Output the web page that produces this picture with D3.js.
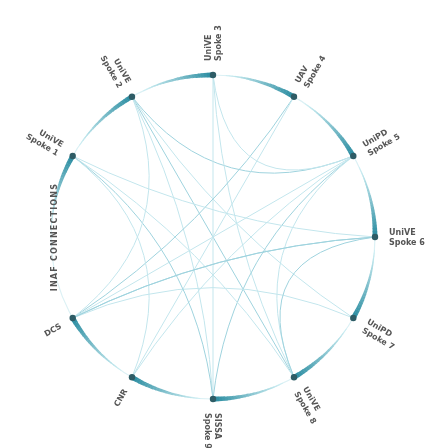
<!DOCTYPE html>
<html>
<head>
<meta charset="utf-8">
<script src="https://cdn.jsdelivr.net/npm/d3@7"></script>
<style>
  body { margin: 0; background: #fff; }
  text { font-family: "DejaVu Sans", sans-serif; }
</style>
</head>
<body>
<div id="chart"></div>
<script>
// node labels, going clockwise from the top
var line1 = ["UniVE", "UAV", "UniPD", "UniVE", "UniPD", "UniVE", "SISSA", "CNR", "DCS", "INAF CONNECTIONS", "UniVE", "UniVE"];
var line2 = ["Spoke 3", "Spoke 4", "Spoke 5", "Spoke 6", "Spoke 7", "Spoke 8", "Spoke 9", "", "", "", "Spoke 1", "Spoke 2"];
var hasNode = [1, 1, 1, 1, 1, 1, 1, 1, 1, 0, 1, 1];

// connections between nodes (index pairs)
var linkFrom = [11, 11, 11, 11, 0, 0, 1, 1, 2, 2, 2, 3, 3, 4, 5, 6, 0, 2, 3, 10, 11, 8];
var linkTo   = [ 5,  6,  4,  2, 6, 5, 8, 7, 8, 6, 7, 10, 8, 8, 10, 10, 2, 5, 5, 7, 8, 3];

var width = 431, height = 448;
var cx = 213, cy = 237, R = 162;

var svg = d3.select("#chart").append("svg").attr("width", width).attr("height", height);

var defs = svg.append("defs");
defs.append("filter").attr("id", "soft")
  .append("feGaussianBlur").attr("stdDeviation", 0.75);

var g = svg.append("g").attr("transform", "translate(" + cx + "," + cy + ")")
  .attr("filter", "url(#soft)");

var angle = d3.scaleLinear().domain([0, line1.length]).range([0, 2 * Math.PI]);
var deg = function(i) { return angle(i) * 180 / Math.PI; };
var px = function(a, r) { return r * Math.sin(a); };
var py = function(a, r) { return -r * Math.cos(a); };

// faint ring
g.append("circle").attr("r", R).attr("fill", "none")
  .attr("stroke", "#dcf1f5").attr("stroke-width", 1.2);

// chords
var links = linkFrom.map(function(s, k) { return [s, linkTo[k]]; });
g.selectAll(".chord").data(links).enter().append("path")
  .attr("class", "chord")
  .attr("fill", "none")
  .attr("stroke", function(d, k) { return k % 3 == 0 ? "#9fd3de" : "#c3e6ed"; })
  .attr("stroke-width", 1)
  .attr("d", function(d) {
    var a1 = angle(d[0]), a2 = angle(d[1]);
    var x1 = px(a1, R), y1 = py(a1, R), x2 = px(a2, R), y2 = py(a2, R);
    var qx = (x1 + x2) / 2 * 0.25, qy = (y1 + y2) / 2 * 0.25;
    return "M" + x1 + "," + y1 + "Q" + qx + "," + qy + " " + x2 + "," + y2;
  });

// tapered arcs ending at each node
var span = angle(0.85), steps = 24;
var col = d3.interpolateRgb("#cdeef3", "#23889d");
var nodes = d3.range(line1.length).filter(function(i) { return hasNode[i]; });
nodes.forEach(function(i) {
  var end = angle(i), start = end - span;
  var segs = d3.range(steps).map(function(s) { return s / steps; });
  g.selectAll(".seg" + i).data(segs).enter().append("path")
    .attr("fill", function(t) { return col(Math.pow(t, 1.1)); })
    .attr("d", function(t) {
      var w = 0.8 + 4.4 * Math.pow(t, 1.1);
      return d3.arc()({
        innerRadius: R - w / 2, outerRadius: R + w / 2,
        startAngle: start + t * span, endAngle: start + (t + 1 / steps) * span + 0.002
      });
    });
});

// node dots
g.selectAll(".dot").data(nodes).enter().append("circle")
  .attr("cx", function(i) { return px(angle(i), R); })
  .attr("cy", function(i) { return py(angle(i), R); })
  .attr("r", 3.2).attr("fill", "#2d5c66");

// labels
line1.forEach(function(t, i) {
  var a = deg(i);
  if (!hasNode[i]) {
    // label set along the ring
    g.append("text")
      .attr("transform", "rotate(" + (a - 360) + ")translate(0," + (-R + 6) + ")")
      .attr("text-anchor", "middle")
      .attr("font-size", 8).attr("font-weight", "bold").attr("fill", "#555")
      .attr("letter-spacing", 1.2)
      .text(t);
    return;
  }
  var flip = a > 180;
  var lab = g.append("text")
    .attr("transform", "rotate(" + (a - 90) + ")translate(" + (R + 14) + ",0)" + (flip ? "rotate(180)" : ""))
    .attr("text-anchor", flip ? "end" : "start")
    .attr("font-size", 8).attr("font-weight", "bold").attr("fill", "#555");
  var two = line2[i] != "";
  lab.append("tspan").attr("x", 0).attr("y", two ? -2 : 3).text(t);
  if (two) lab.append("tspan").attr("x", 0).attr("y", 8).text(line2[i]);
});
</script>
</body>
</html>
